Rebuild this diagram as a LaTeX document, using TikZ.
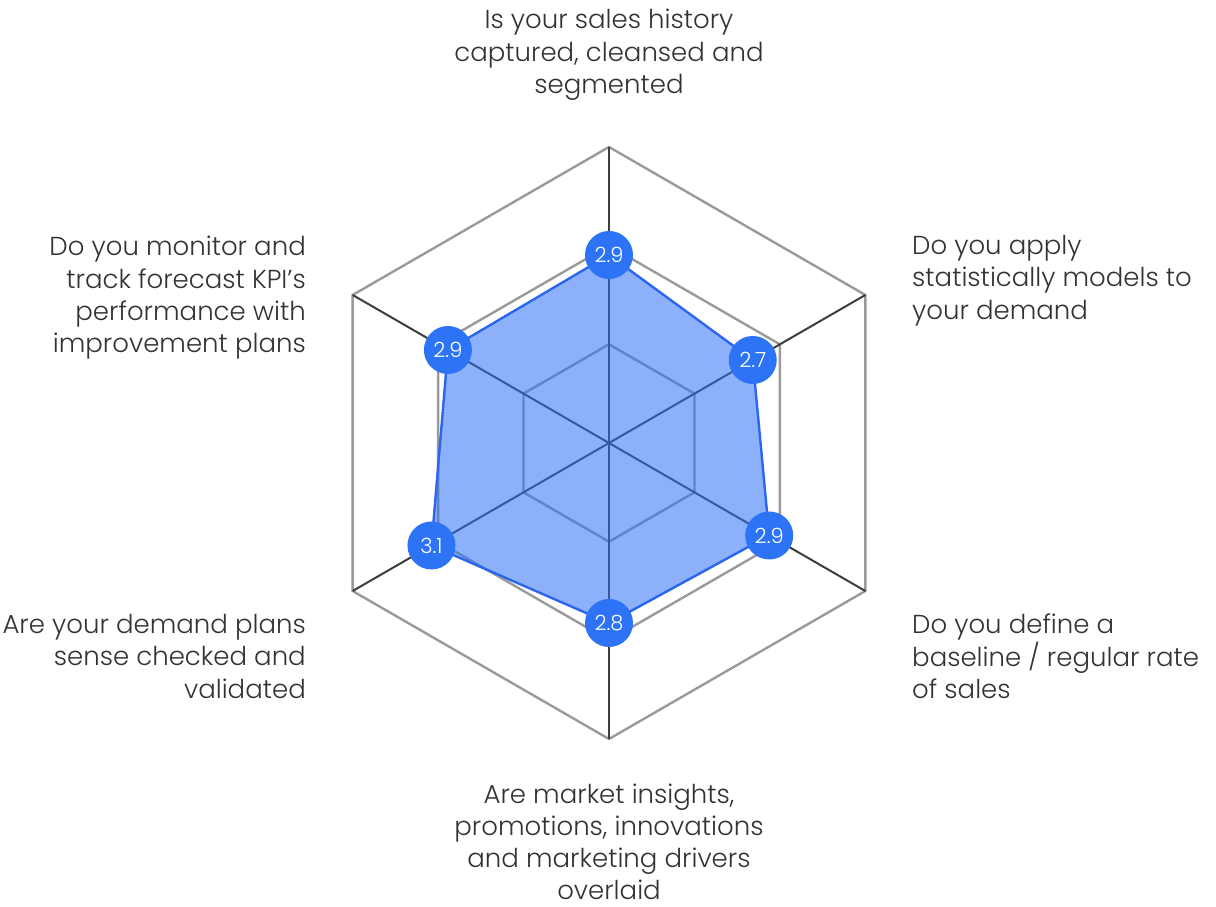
\documentclass[tikz,border=0pt]{standalone}
\usepackage{fontspec}
\IfFontExistsTF{Poppins Light}{\setmainfont{Poppins Light}}{\setmainfont{Poppins}}
\usetikzlibrary{calc}
\definecolor{txt}{HTML}{333333}
\definecolor{ringgrey}{HTML}{9A9A9A}
\definecolor{spokegrey}{HTML}{3D3D3D}
\definecolor{areablue}{HTML}{2F6FF5}
\definecolor{lineblue}{HTML}{2A66F0}
\definecolor{dotblue}{HTML}{2C73F6}
\begin{document}
\begin{tikzpicture}[x=1pt,y=1pt,
  ring/.style={draw=ringgrey, line width=2.4pt, line join=miter},
  spoke/.style={draw=spokegrey, line width=2pt},
  area/.style={fill=areablue, fill opacity=0.55},
  outline/.style={draw=lineblue, line width=2.4pt, line join=round},
  val/.style={circle, fill=dotblue, minimum size=48pt, inner sep=0pt, text=white, font=\fontsize{21}{21}\selectfont},
  lbl/.style={inner sep=0pt, text=txt, font=\fontsize{26}{32.3}\selectfont}]
\useasboundingbox (0,0) rectangle (1216,907);
\coordinate (O) at (609,464);
% grid rings
\foreach \r in {98.7,197.3,296}{
  \draw[ring, shift={(O)}] (90:\r) -- (30:\r) -- (-30:\r) -- (-90:\r) -- (210:\r) -- (150:\r) -- cycle;
}
% outer vertices
\coordinate (vT) at ($(O)+(90:296)$);
\coordinate (vUR) at ($(O)+(30:296)$);
\coordinate (vLR) at ($(O)+(-30:296)$);
\coordinate (vB) at ($(O)+(-90:296)$);
\coordinate (vLL) at ($(O)+(210:296)$);
\coordinate (vUL) at ($(O)+(150:296)$);
\foreach \v in {vT,vUR,vLR,vB,vLL,vUL}{
  \draw[spoke] (O) -- (\v);
}
% data points
\coordinate (pT) at ($(O)+(90:188)$);
\coordinate (pUR) at ($(O)+(30:166)$);
\coordinate (pLR) at ($(O)+(-30:185)$);
\coordinate (pB) at ($(O)+(-90:180)$);
\coordinate (pLL) at ($(O)+(210:205)$);
\coordinate (pUL) at ($(O)+(150:186)$);
\fill[area] (pT) -- (pUR) -- (pLR) -- (pB) -- (pLL) -- (pUL) -- cycle;
\draw[outline] (pT) -- (pUR) -- (pLR) -- (pB) -- (pLL) -- (pUL) -- cycle;
\node[val] (nT) at (pT) {2.9};
\node[val] (nUR) at (pUR) {2.7};
\node[val] (nLR) at (pLR) {2.9};
\node[val] (nB) at (pB) {2.8};
\node[val] (nLL) at (pLL) {3.1};
\node[val] (nUL) at (pUL) {2.9};
% labels
\node[lbl, align=center, anchor=north] (lT) at (609,898) {Is your sales history\\captured, cleansed and\\segmented};
\node[lbl, align=left, anchor=north west] (lUR) at (912,672) {Do you apply\\statistically models to\\your demand};
\node[lbl, align=left, anchor=north west] (lLR) at (912,293) {Do you define a\\baseline / regular rate\\of sales};
\node[lbl, align=center, anchor=north, font=\fontsize{26}{31.8}\selectfont] (lB) at (609,123) {Are market insights,\\promotions, innovations\\and marketing drivers\\overlaid};
\node[lbl, align=right, anchor=north east] (lLL) at (306,293) {Are your demand plans\\sense checked and\\validated};
\node[lbl, align=right, anchor=north east] (lUL) at (306,671) {Do you monitor and\\track forecast KPI’s\\performance with\\improvement plans};
\end{tikzpicture}
\end{document}
